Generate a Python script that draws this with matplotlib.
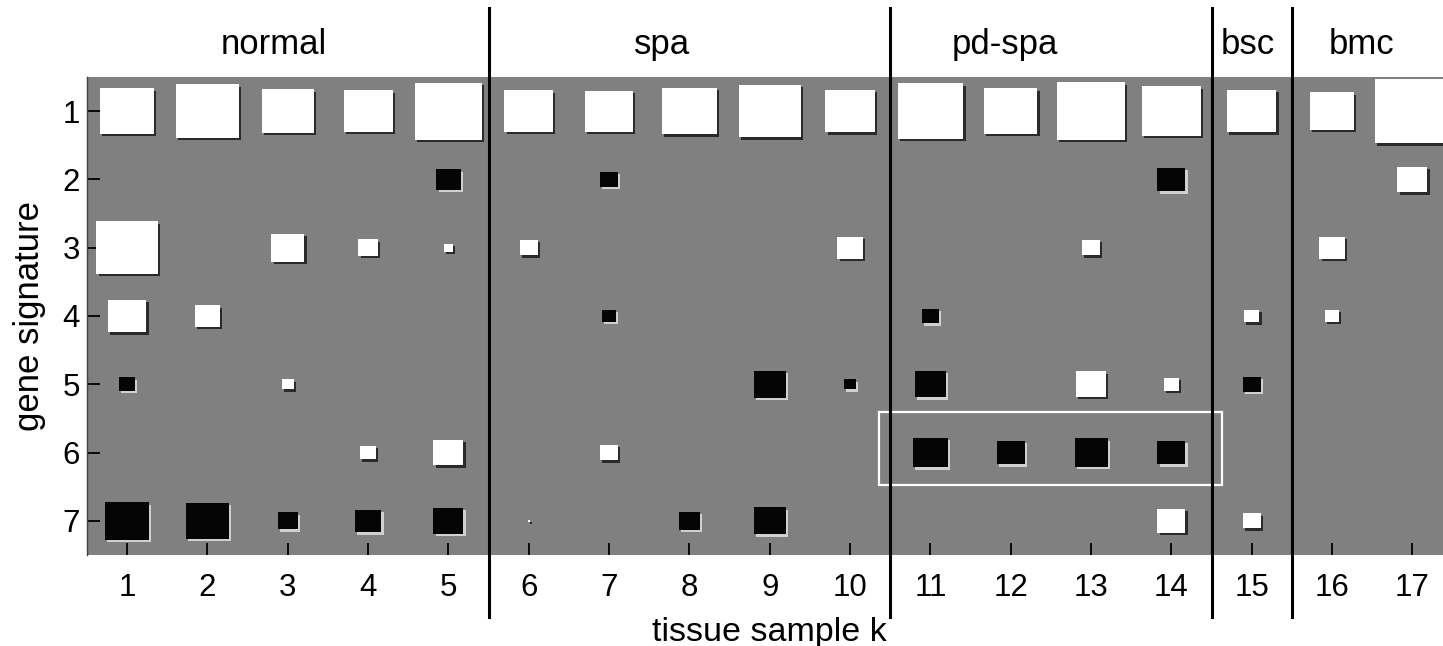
import numpy as np
import matplotlib.pyplot as plt
from matplotlib.patches import Rectangle
import matplotlib.transforms as mtransforms

plt.rcParams['font.family'] = ['Liberation Sans', 'DejaVu Sans']

# signed weights: row = gene signature 1..7, column = tissue sample 1..17
# positive -> white square, negative -> black square
weights = np.array([
    [0.45, 0.62, 0.41, 0.37, 0.69, 0.37, 0.36, 0.46, 0.59, 0.38, 0.67, 0.44, 0.71, 0.53, 0.38, 0.30, 0.88],
    [0, 0, 0, 0, -0.09, 0, -0.05, 0, 0, 0, 0, 0, 0, -0.12, 0, 0, 0.14],
    [0.59, 0, 0.17, 0.06, 0.014, 0.05, 0, 0, 0, 0.10, 0, 0, 0.05, 0, 0, 0.10, 0],
    [0.23, 0.10, 0, 0, 0, 0, -0.03, 0, 0, 0, -0.045, 0, 0, 0, 0.036, 0.03, 0],
    [-0.04, 0, 0.022, 0, 0, 0, 0, 0, -0.16, -0.022, -0.15, 0, 0.14, 0.036, -0.05, 0, 0],
    [0, 0, 0, 0.04, 0.14, 0, 0.05, 0, 0, 0, -0.19, -0.12, -0.17, -0.12, 0, 0, 0],
    [-0.30, -0.28, -0.06, -0.11, -0.14, 0.001, 0, -0.07, -0.16, 0, 0, 0, 0, 0.12, 0.05, 0, 0],
])
samples = np.arange(1, 18)
signatures = np.arange(1, 8)

groups = ["normal", "spa", "pd-spa", "bsc", "bmc"]
group_label_x = [2.82, 7.66, 11.93, 14.95, 16.37]
group_bounds = [5.5, 10.5, 14.5, 15.5]

fig = plt.figure(figsize=(14.43, 6.46), dpi=100)
ax = fig.add_axes([0.0603, 0.1409, 0.9463, 0.7399])
ax.set_facecolor('#808080')

dx, dy = 0.028, 0.035
for i, sig in enumerate(signatures):
    for j, k in enumerate(samples):
        w = weights[i, j]
        if w == 0:
            continue
        s = np.sqrt(abs(w))
        if w > 0:
            fc, sc = 'white', '#2a2a2a'
        else:
            fc, sc = '#050505', '#d0d0d0'
        ax.add_patch(Rectangle((k - s / 2 + dx, sig - s / 2 + dy), s, s,
                               facecolor=sc, edgecolor='none', zorder=2))
        ax.add_patch(Rectangle((k - s / 2, sig - s / 2), s, s,
                               facecolor=fc, edgecolor='none', zorder=3))

# highlighted pd-spa block
ax.add_patch(Rectangle((10.36, 5.41), 4.27, 1.07, facecolor='none',
                       edgecolor='white', linewidth=1.6, zorder=4))

ax.set_xlim(0.5, 17.5)
ax.set_ylim(7.5, 0.5)
ax.set_xticks(samples)
ax.set_yticks(signatures)
ax.tick_params(axis='x', direction='in', length=9, width=1.3, pad=13, labelsize=22.5)
ax.tick_params(axis='y', direction='in', length=9, width=1.3, pad=5, labelsize=22.5)
for side in ['top', 'right', 'bottom']:
    ax.spines[side].set_visible(False)
ax.spines['left'].set_color('#404040')
ax.spines['left'].set_linewidth(1.0)

ax.set_xlabel("tissue sample k", fontsize=24.5, labelpad=10)
ax.set_ylabel("gene signature", fontsize=25, labelpad=12)

trans = mtransforms.blended_transform_factory(ax.transData, ax.transAxes)
for xb in group_bounds:
    ax.plot([xb, xb], [-0.13, 1.144], color='black', linewidth=2.2,
            transform=trans, clip_on=False, zorder=5)
for name, xl in zip(groups, group_label_x):
    ax.text(xl, 1.067, name, transform=trans, ha='center', va='center', fontsize=25)

fig.savefig("out.png", dpi=100)
